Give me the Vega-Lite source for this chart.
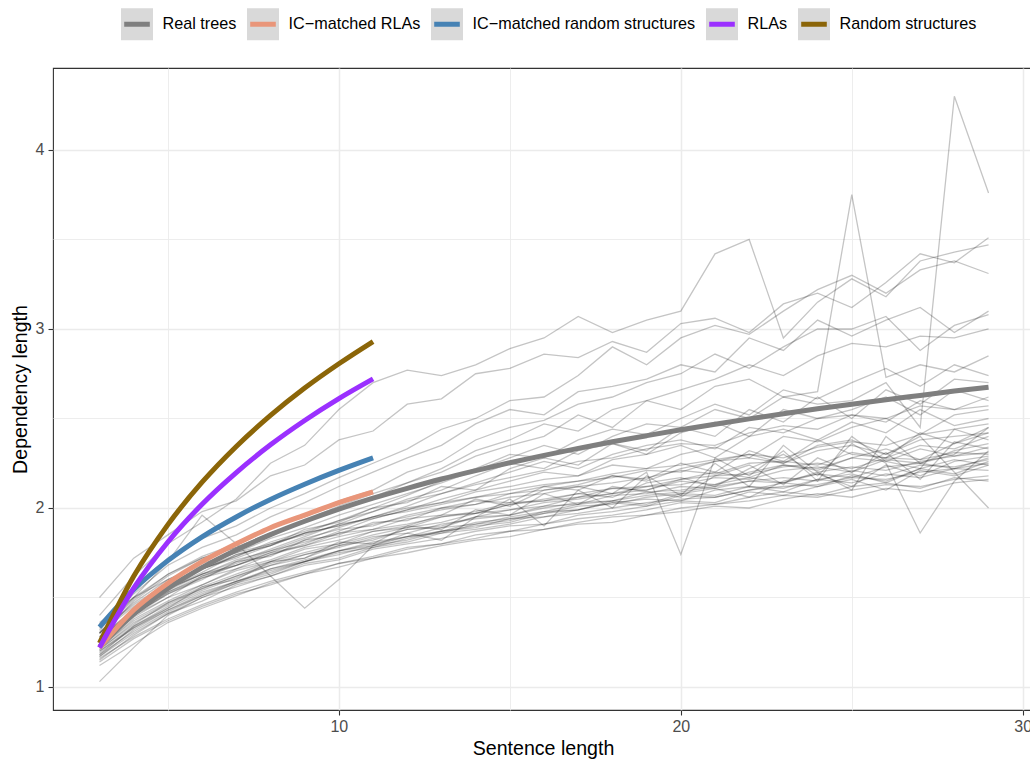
{
"$schema":"https://vega.github.io/schema/vega-lite/v6.json",
"width":980,"height":642,
"autosize":{"type":"none"},
"padding":{"left":53,"top":68,"right":0,"bottom":49},
"config":{
 "font":"Liberation Sans",
 "view":{"stroke":"#333333","strokeWidth":1.1},
 "axis":{"domain":false,"gridColor":"#EBEBEB","tickColor":"#333333","tickWidth":1.1,"tickSize":5,"labelFont":"Liberation Sans","labelFontSize":16,"labelColor":"#4D4D4D","titleFont":"Liberation Sans","titleFontSize":19.6,"titleFontWeight":"normal","titleColor":"#000000"}
},
"datasets":{
"lang":[
{"l":1,"x":3,"y":1.15},{"l":1,"x":4,"y":1.29},{"l":1,"x":5,"y":1.41},{"l":1,"x":6,"y":1.48},{"l":1,"x":7,"y":1.57},{"l":1,"x":8,"y":1.62},{"l":1,"x":9,"y":1.69},{"l":1,"x":10,"y":1.72},{"l":1,"x":11,"y":1.78},{"l":1,"x":12,"y":1.81},{"l":1,"x":13,"y":1.86},{"l":1,"x":14,"y":1.88},{"l":1,"x":15,"y":1.91},{"l":1,"x":16,"y":1.95},{"l":1,"x":17,"y":1.97},{"l":1,"x":18,"y":2.00},{"l":1,"x":19,"y":2.03},{"l":1,"x":20,"y":2.05},{"l":1,"x":21,"y":2.06},{"l":1,"x":22,"y":2.10},{"l":1,"x":23,"y":2.12},{"l":1,"x":24,"y":2.13},{"l":1,"x":25,"y":2.17},{"l":1,"x":26,"y":2.16},{"l":1,"x":27,"y":2.20},{"l":1,"x":28,"y":2.22},{"l":1,"x":29,"y":2.21},
{"l":2,"x":3,"y":1.20},{"l":2,"x":4,"y":1.34},{"l":2,"x":5,"y":1.45},{"l":2,"x":6,"y":1.54},{"l":2,"x":7,"y":1.61},{"l":2,"x":8,"y":1.68},{"l":2,"x":9,"y":1.72},{"l":2,"x":10,"y":1.79},{"l":2,"x":11,"y":1.82},{"l":2,"x":12,"y":1.88},{"l":2,"x":13,"y":1.89},{"l":2,"x":14,"y":1.95},{"l":2,"x":15,"y":1.96},{"l":2,"x":16,"y":2.01},{"l":2,"x":17,"y":2.02},{"l":2,"x":18,"y":2.07},{"l":2,"x":19,"y":2.08},{"l":2,"x":20,"y":2.12},{"l":2,"x":21,"y":2.11},{"l":2,"x":22,"y":2.15},{"l":2,"x":23,"y":2.17},{"l":2,"x":24,"y":2.15},{"l":2,"x":25,"y":2.21},{"l":2,"x":26,"y":2.18},{"l":2,"x":27,"y":2.24},{"l":2,"x":28,"y":2.23},{"l":2,"x":29,"y":2.27},
{"l":3,"x":3,"y":1.24},{"l":3,"x":4,"y":1.39},{"l":3,"x":5,"y":1.50},{"l":3,"x":6,"y":1.57},{"l":3,"x":7,"y":1.66},{"l":3,"x":8,"y":1.71},{"l":3,"x":9,"y":1.78},{"l":3,"x":10,"y":1.82},{"l":3,"x":11,"y":1.87},{"l":3,"x":12,"y":1.90},{"l":3,"x":13,"y":1.96},{"l":3,"x":14,"y":1.97},{"l":3,"x":15,"y":2.02},{"l":3,"x":16,"y":2.04},{"l":3,"x":17,"y":2.06},{"l":3,"x":18,"y":2.11},{"l":3,"x":19,"y":2.12},{"l":3,"x":20,"y":2.16},{"l":3,"x":21,"y":2.18},{"l":3,"x":22,"y":2.19},{"l":3,"x":23,"y":2.23},{"l":3,"x":24,"y":2.25},{"l":3,"x":25,"y":2.22},{"l":3,"x":26,"y":2.28},{"l":3,"x":27,"y":2.27},{"l":3,"x":28,"y":2.31},{"l":3,"x":29,"y":2.30},
{"l":4,"x":3,"y":1.12},{"l":4,"x":4,"y":1.24},{"l":4,"x":5,"y":1.36},{"l":4,"x":6,"y":1.44},{"l":4,"x":7,"y":1.51},{"l":4,"x":8,"y":1.58},{"l":4,"x":9,"y":1.63},{"l":4,"x":10,"y":1.69},{"l":4,"x":11,"y":1.73},{"l":4,"x":12,"y":1.78},{"l":4,"x":13,"y":1.80},{"l":4,"x":14,"y":1.85},{"l":4,"x":15,"y":1.87},{"l":4,"x":16,"y":1.91},{"l":4,"x":17,"y":1.94},{"l":4,"x":18,"y":1.96},{"l":4,"x":19,"y":1.99},{"l":4,"x":20,"y":2.03},{"l":4,"x":21,"y":2.02},{"l":4,"x":22,"y":2.06},{"l":4,"x":23,"y":2.09},{"l":4,"x":24,"y":2.07},{"l":4,"x":25,"y":2.12},{"l":4,"x":26,"y":2.14},{"l":4,"x":27,"y":2.11},{"l":4,"x":28,"y":2.17},{"l":4,"x":29,"y":2.15},
{"l":5,"x":3,"y":1.22},{"l":5,"x":4,"y":1.37},{"l":5,"x":5,"y":1.47},{"l":5,"x":6,"y":1.56},{"l":5,"x":7,"y":1.63},{"l":5,"x":8,"y":1.70},{"l":5,"x":9,"y":1.75},{"l":5,"x":10,"y":1.80},{"l":5,"x":11,"y":1.85},{"l":5,"x":12,"y":1.89},{"l":5,"x":13,"y":1.92},{"l":5,"x":14,"y":1.97},{"l":5,"x":15,"y":1.99},{"l":5,"x":16,"y":2.03},{"l":5,"x":17,"y":2.05},{"l":5,"x":18,"y":2.08},{"l":5,"x":19,"y":2.12},{"l":5,"x":20,"y":2.13},{"l":5,"x":21,"y":2.17},{"l":5,"x":22,"y":2.16},{"l":5,"x":23,"y":2.21},{"l":5,"x":24,"y":2.23},{"l":5,"x":25,"y":2.20},{"l":5,"x":26,"y":2.27},{"l":5,"x":27,"y":2.25},{"l":5,"x":28,"y":2.32},{"l":5,"x":29,"y":2.36},
{"l":6,"x":3,"y":1.18},{"l":6,"x":4,"y":1.31},{"l":6,"x":5,"y":1.42},{"l":6,"x":6,"y":1.51},{"l":6,"x":7,"y":1.58},{"l":6,"x":8,"y":1.63},{"l":6,"x":9,"y":1.70},{"l":6,"x":10,"y":1.74},{"l":6,"x":11,"y":1.79},{"l":6,"x":12,"y":1.82},{"l":6,"x":13,"y":1.87},{"l":6,"x":14,"y":1.89},{"l":6,"x":15,"y":1.94},{"l":6,"x":16,"y":1.95},{"l":6,"x":17,"y":1.99},{"l":6,"x":18,"y":2.03},{"l":6,"x":19,"y":2.01},{"l":6,"x":20,"y":2.07},{"l":6,"x":21,"y":2.06},{"l":6,"x":22,"y":2.10},{"l":6,"x":23,"y":2.14},{"l":6,"x":24,"y":2.12},{"l":6,"x":25,"y":2.18},{"l":6,"x":26,"y":2.15},{"l":6,"x":27,"y":2.22},{"l":6,"x":28,"y":2.19},{"l":6,"x":29,"y":2.26},
{"l":7,"x":3,"y":1.27},{"l":7,"x":4,"y":1.42},{"l":7,"x":5,"y":1.53},{"l":7,"x":6,"y":1.62},{"l":7,"x":7,"y":1.69},{"l":7,"x":8,"y":1.76},{"l":7,"x":9,"y":1.81},{"l":7,"x":10,"y":1.86},{"l":7,"x":11,"y":1.91},{"l":7,"x":12,"y":1.95},{"l":7,"x":13,"y":1.99},{"l":7,"x":14,"y":2.02},{"l":7,"x":15,"y":2.06},{"l":7,"x":16,"y":2.08},{"l":7,"x":17,"y":2.12},{"l":7,"x":18,"y":2.14},{"l":7,"x":19,"y":2.17},{"l":7,"x":20,"y":2.21},{"l":7,"x":21,"y":2.19},{"l":7,"x":22,"y":2.25},{"l":7,"x":23,"y":2.26},{"l":7,"x":24,"y":2.24},{"l":7,"x":25,"y":2.31},{"l":7,"x":26,"y":2.28},{"l":7,"x":27,"y":2.35},{"l":7,"x":28,"y":2.33},{"l":7,"x":29,"y":2.40},
{"l":8,"x":3,"y":1.16},{"l":8,"x":4,"y":1.28},{"l":8,"x":5,"y":1.38},{"l":8,"x":6,"y":1.46},{"l":8,"x":7,"y":1.53},{"l":8,"x":8,"y":1.59},{"l":8,"x":9,"y":1.64},{"l":8,"x":10,"y":1.69},{"l":8,"x":11,"y":1.72},{"l":8,"x":12,"y":1.77},{"l":8,"x":13,"y":1.80},{"l":8,"x":14,"y":1.83},{"l":8,"x":15,"y":1.87},{"l":8,"x":16,"y":1.88},{"l":8,"x":17,"y":1.92},{"l":8,"x":18,"y":1.95},{"l":8,"x":19,"y":1.96},{"l":8,"x":20,"y":2.00},{"l":8,"x":21,"y":2.02},{"l":8,"x":22,"y":2.04},{"l":8,"x":23,"y":2.07},{"l":8,"x":24,"y":2.06},{"l":8,"x":25,"y":2.10},{"l":8,"x":26,"y":2.13},{"l":8,"x":27,"y":2.12},{"l":8,"x":28,"y":2.16},{"l":8,"x":29,"y":2.18},
{"l":9,"x":3,"y":1.03},{"l":9,"x":4,"y":1.22},{"l":9,"x":5,"y":1.40},{"l":9,"x":6,"y":1.50},{"l":9,"x":7,"y":1.58},{"l":9,"x":8,"y":1.66},{"l":9,"x":9,"y":1.70},{"l":9,"x":10,"y":1.76},{"l":9,"x":11,"y":1.80},{"l":9,"x":12,"y":1.84},{"l":9,"x":13,"y":1.87},{"l":9,"x":14,"y":1.92},{"l":9,"x":15,"y":1.94},{"l":9,"x":16,"y":1.97},{"l":9,"x":17,"y":2.01},{"l":9,"x":18,"y":2.02},{"l":9,"x":19,"y":2.06},{"l":9,"x":20,"y":2.08},{"l":9,"x":21,"y":2.07},{"l":9,"x":22,"y":2.12},{"l":9,"x":23,"y":2.11},{"l":9,"x":24,"y":2.16},{"l":9,"x":25,"y":2.14},{"l":9,"x":26,"y":2.19},{"l":9,"x":27,"y":2.17},{"l":9,"x":28,"y":2.22},{"l":9,"x":29,"y":2.25},
{"l":10,"x":3,"y":1.21},{"l":10,"x":4,"y":1.35},{"l":10,"x":5,"y":1.47},{"l":10,"x":6,"y":1.55},{"l":10,"x":7,"y":1.62},{"l":10,"x":8,"y":1.69},{"l":10,"x":9,"y":1.74},{"l":10,"x":10,"y":1.79},{"l":10,"x":11,"y":1.84},{"l":10,"x":12,"y":1.86},{"l":10,"x":13,"y":1.91},{"l":10,"x":14,"y":1.94},{"l":10,"x":15,"y":1.96},{"l":10,"x":16,"y":2.00},{"l":10,"x":17,"y":2.03},{"l":10,"x":18,"y":2.04},{"l":10,"x":19,"y":2.09},{"l":10,"x":20,"y":2.10},{"l":10,"x":21,"y":2.13},{"l":10,"x":22,"y":2.17},{"l":10,"x":23,"y":2.14},{"l":10,"x":24,"y":2.20},{"l":10,"x":25,"y":2.23},{"l":10,"x":26,"y":2.21},{"l":10,"x":27,"y":2.26},{"l":10,"x":28,"y":2.29},{"l":10,"x":29,"y":2.31},
{"l":11,"x":3,"y":1.14},{"l":11,"x":4,"y":1.27},{"l":11,"x":5,"y":1.37},{"l":11,"x":6,"y":1.45},{"l":11,"x":7,"y":1.52},{"l":11,"x":8,"y":1.57},{"l":11,"x":9,"y":1.63},{"l":11,"x":10,"y":1.67},{"l":11,"x":11,"y":1.72},{"l":11,"x":12,"y":1.75},{"l":11,"x":13,"y":1.79},{"l":11,"x":14,"y":1.82},{"l":11,"x":15,"y":1.84},{"l":11,"x":16,"y":1.88},{"l":11,"x":17,"y":1.91},{"l":11,"x":18,"y":1.92},{"l":11,"x":19,"y":1.96},{"l":11,"x":20,"y":1.98},{"l":11,"x":21,"y":2.01},{"l":11,"x":22,"y":2.00},{"l":11,"x":23,"y":2.05},{"l":11,"x":24,"y":2.08},{"l":11,"x":25,"y":2.06},{"l":11,"x":26,"y":2.11},{"l":11,"x":27,"y":2.09},{"l":11,"x":28,"y":2.14},{"l":11,"x":29,"y":2.16},
{"l":12,"x":3,"y":1.26},{"l":12,"x":4,"y":1.41},{"l":12,"x":5,"y":1.52},{"l":12,"x":6,"y":1.61},{"l":12,"x":7,"y":1.68},{"l":12,"x":8,"y":1.74},{"l":12,"x":9,"y":1.79},{"l":12,"x":10,"y":1.84},{"l":12,"x":11,"y":1.88},{"l":12,"x":12,"y":1.91},{"l":12,"x":13,"y":1.95},{"l":12,"x":14,"y":1.98},{"l":12,"x":15,"y":2.03},{"l":12,"x":16,"y":2.04},{"l":12,"x":17,"y":2.08},{"l":12,"x":18,"y":2.11},{"l":12,"x":19,"y":2.10},{"l":12,"x":20,"y":2.16},{"l":12,"x":21,"y":2.20},{"l":12,"x":22,"y":2.17},{"l":12,"x":23,"y":2.24},{"l":12,"x":24,"y":2.22},{"l":12,"x":25,"y":2.28},{"l":12,"x":26,"y":2.33},{"l":12,"x":27,"y":2.27},{"l":12,"x":28,"y":2.36},{"l":12,"x":29,"y":2.42},
{"l":13,"x":3,"y":1.19},{"l":13,"x":4,"y":1.33},{"l":13,"x":5,"y":1.43},{"l":13,"x":6,"y":1.52},{"l":13,"x":7,"y":1.59},{"l":13,"x":8,"y":1.65},{"l":13,"x":9,"y":1.70},{"l":13,"x":10,"y":1.76},{"l":13,"x":11,"y":1.79},{"l":13,"x":12,"y":1.84},{"l":13,"x":13,"y":1.86},{"l":13,"x":14,"y":1.91},{"l":13,"x":15,"y":1.93},{"l":13,"x":16,"y":1.98},{"l":13,"x":17,"y":1.99},{"l":13,"x":18,"y":2.04},{"l":13,"x":19,"y":2.02},{"l":13,"x":20,"y":2.08},{"l":13,"x":21,"y":2.11},{"l":13,"x":22,"y":2.06},{"l":13,"x":23,"y":2.15},{"l":13,"x":24,"y":2.19},{"l":13,"x":25,"y":2.12},{"l":13,"x":26,"y":2.24},{"l":13,"x":27,"y":2.18},{"l":13,"x":28,"y":2.26},{"l":13,"x":29,"y":2.29},
{"l":14,"x":3,"y":1.30},{"l":14,"x":4,"y":1.45},{"l":14,"x":5,"y":1.57},{"l":14,"x":6,"y":1.66},{"l":14,"x":7,"y":1.73},{"l":14,"x":8,"y":1.80},{"l":14,"x":9,"y":1.85},{"l":14,"x":10,"y":1.91},{"l":14,"x":11,"y":1.94},{"l":14,"x":12,"y":1.99},{"l":14,"x":13,"y":2.03},{"l":14,"x":14,"y":2.06},{"l":14,"x":15,"y":2.10},{"l":14,"x":16,"y":2.13},{"l":14,"x":17,"y":2.15},{"l":14,"x":18,"y":2.19},{"l":14,"x":19,"y":2.22},{"l":14,"x":20,"y":2.24},{"l":14,"x":21,"y":2.27},{"l":14,"x":22,"y":2.30},{"l":14,"x":23,"y":2.28},{"l":14,"x":24,"y":2.34},{"l":14,"x":25,"y":2.37},{"l":14,"x":26,"y":2.35},{"l":14,"x":27,"y":2.41},{"l":14,"x":28,"y":2.44},{"l":14,"x":29,"y":2.47},
{"l":15,"x":3,"y":1.17},{"l":15,"x":4,"y":1.30},{"l":15,"x":5,"y":1.41},{"l":15,"x":6,"y":1.50},{"l":15,"x":7,"y":1.56},{"l":15,"x":8,"y":1.62},{"l":15,"x":9,"y":1.68},{"l":15,"x":10,"y":1.71},{"l":15,"x":11,"y":1.77},{"l":15,"x":12,"y":1.80},{"l":15,"x":13,"y":1.83},{"l":15,"x":14,"y":1.87},{"l":15,"x":15,"y":1.90},{"l":15,"x":16,"y":1.91},{"l":15,"x":17,"y":1.96},{"l":15,"x":18,"y":1.98},{"l":15,"x":19,"y":2.01},{"l":15,"x":20,"y":2.04},{"l":15,"x":21,"y":2.03},{"l":15,"x":22,"y":2.09},{"l":15,"x":23,"y":2.07},{"l":15,"x":24,"y":2.12},{"l":15,"x":25,"y":2.16},{"l":15,"x":26,"y":2.10},{"l":15,"x":27,"y":2.21},{"l":15,"x":28,"y":2.18},{"l":15,"x":29,"y":2.24},
{"l":16,"x":3,"y":1.30},{"l":16,"x":4,"y":1.50},{"l":16,"x":5,"y":1.70},{"l":16,"x":6,"y":1.96},{"l":16,"x":7,"y":1.80},{"l":16,"x":8,"y":1.62},{"l":16,"x":9,"y":1.44},{"l":16,"x":10,"y":1.60},{"l":16,"x":11,"y":1.79},{"l":16,"x":12,"y":1.86},{"l":16,"x":13,"y":1.82},{"l":16,"x":14,"y":1.95},{"l":16,"x":15,"y":2.05},{"l":16,"x":16,"y":1.90},{"l":16,"x":17,"y":2.10},{"l":16,"x":18,"y":2.00},{"l":16,"x":19,"y":2.18},{"l":16,"x":20,"y":2.07},{"l":16,"x":21,"y":2.25},{"l":16,"x":22,"y":2.12},{"l":16,"x":23,"y":2.35},{"l":16,"x":24,"y":2.20},{"l":16,"x":25,"y":2.10},{"l":16,"x":26,"y":2.40},{"l":16,"x":27,"y":2.25},{"l":16,"x":28,"y":2.30},{"l":16,"x":29,"y":2.45},
{"l":17,"x":3,"y":1.24},{"l":17,"x":4,"y":1.40},{"l":17,"x":5,"y":1.50},{"l":17,"x":6,"y":1.62},{"l":17,"x":7,"y":1.68},{"l":17,"x":8,"y":1.75},{"l":17,"x":9,"y":1.79},{"l":17,"x":10,"y":1.86},{"l":17,"x":11,"y":1.88},{"l":17,"x":12,"y":1.94},{"l":17,"x":13,"y":1.96},{"l":17,"x":14,"y":2.05},{"l":17,"x":15,"y":2.01},{"l":17,"x":16,"y":2.10},{"l":17,"x":17,"y":2.12},{"l":17,"x":18,"y":2.08},{"l":17,"x":19,"y":2.20},{"l":17,"x":20,"y":1.74},{"l":17,"x":21,"y":2.28},{"l":17,"x":22,"y":2.18},{"l":17,"x":23,"y":2.32},{"l":17,"x":24,"y":2.15},{"l":17,"x":25,"y":2.40},{"l":17,"x":26,"y":2.26},{"l":17,"x":27,"y":2.22},{"l":17,"x":28,"y":2.44},{"l":17,"x":29,"y":2.38},
{"l":18,"x":3,"y":1.22},{"l":18,"x":4,"y":1.38},{"l":18,"x":5,"y":1.48},{"l":18,"x":6,"y":1.57},{"l":18,"x":7,"y":1.65},{"l":18,"x":8,"y":1.70},{"l":18,"x":9,"y":1.77},{"l":18,"x":10,"y":1.80},{"l":18,"x":11,"y":1.87},{"l":18,"x":12,"y":1.89},{"l":18,"x":13,"y":1.95},{"l":18,"x":14,"y":1.97},{"l":18,"x":15,"y":2.02},{"l":18,"x":16,"y":2.05},{"l":18,"x":17,"y":2.08},{"l":18,"x":18,"y":2.06},{"l":18,"x":19,"y":2.14},{"l":18,"x":20,"y":2.17},{"l":18,"x":21,"y":2.12},{"l":18,"x":22,"y":2.22},{"l":18,"x":23,"y":2.30},{"l":18,"x":24,"y":2.18},{"l":18,"x":25,"y":2.36},{"l":18,"x":26,"y":2.25},{"l":18,"x":27,"y":1.86},{"l":18,"x":28,"y":2.15},{"l":18,"x":29,"y":2.32},
{"l":19,"x":3,"y":1.28},{"l":19,"x":4,"y":1.43},{"l":19,"x":5,"y":1.55},{"l":19,"x":6,"y":1.63},{"l":19,"x":7,"y":1.71},{"l":19,"x":8,"y":1.76},{"l":19,"x":9,"y":1.83},{"l":19,"x":10,"y":1.88},{"l":19,"x":11,"y":1.90},{"l":19,"x":12,"y":1.96},{"l":19,"x":13,"y":2.00},{"l":19,"x":14,"y":2.02},{"l":19,"x":15,"y":2.08},{"l":19,"x":16,"y":2.10},{"l":19,"x":17,"y":2.13},{"l":19,"x":18,"y":2.18},{"l":19,"x":19,"y":2.15},{"l":19,"x":20,"y":2.22},{"l":19,"x":21,"y":2.26},{"l":19,"x":22,"y":2.30},{"l":19,"x":23,"y":2.25},{"l":19,"x":24,"y":2.35},{"l":19,"x":25,"y":2.38},{"l":19,"x":26,"y":2.30},{"l":19,"x":27,"y":2.40},{"l":19,"x":28,"y":2.20},{"l":19,"x":29,"y":2.00},
{"l":20,"x":3,"y":1.18},{"l":20,"x":4,"y":1.34},{"l":20,"x":5,"y":1.44},{"l":20,"x":6,"y":1.56},{"l":20,"x":7,"y":1.60},{"l":20,"x":8,"y":1.70},{"l":20,"x":9,"y":1.72},{"l":20,"x":10,"y":1.81},{"l":20,"x":11,"y":1.80},{"l":20,"x":12,"y":1.90},{"l":20,"x":13,"y":1.88},{"l":20,"x":14,"y":1.99},{"l":20,"x":15,"y":1.96},{"l":20,"x":16,"y":2.08},{"l":20,"x":17,"y":2.02},{"l":20,"x":18,"y":2.12},{"l":20,"x":19,"y":2.09},{"l":20,"x":20,"y":2.06},{"l":20,"x":21,"y":2.18},{"l":20,"x":22,"y":2.24},{"l":20,"x":23,"y":2.13},{"l":20,"x":24,"y":2.28},{"l":20,"x":25,"y":2.20},{"l":20,"x":26,"y":2.31},{"l":20,"x":27,"y":2.16},{"l":20,"x":28,"y":2.37},{"l":20,"x":29,"y":2.33},
{"l":21,"x":3,"y":1.50},{"l":21,"x":4,"y":1.72},{"l":21,"x":5,"y":1.85},{"l":21,"x":6,"y":1.98},{"l":21,"x":7,"y":2.04},{"l":21,"x":8,"y":2.18},{"l":21,"x":9,"y":2.24},{"l":21,"x":10,"y":2.38},{"l":21,"x":11,"y":2.43},{"l":21,"x":12,"y":2.58},{"l":21,"x":13,"y":2.61},{"l":21,"x":14,"y":2.75},{"l":21,"x":15,"y":2.78},{"l":21,"x":16,"y":2.86},{"l":21,"x":17,"y":2.84},{"l":21,"x":18,"y":2.93},{"l":21,"x":19,"y":2.87},{"l":21,"x":20,"y":3.03},{"l":21,"x":21,"y":3.06},{"l":21,"x":22,"y":2.98},{"l":21,"x":23,"y":3.14},{"l":21,"x":24,"y":3.20},{"l":21,"x":25,"y":3.12},{"l":21,"x":26,"y":3.26},{"l":21,"x":27,"y":3.42},{"l":21,"x":28,"y":3.37},{"l":21,"x":29,"y":3.51},
{"l":22,"x":3,"y":1.40},{"l":22,"x":4,"y":1.62},{"l":22,"x":5,"y":1.80},{"l":22,"x":6,"y":1.92},{"l":22,"x":7,"y":2.05},{"l":22,"x":8,"y":2.25},{"l":22,"x":9,"y":2.35},{"l":22,"x":10,"y":2.55},{"l":22,"x":11,"y":2.70},{"l":22,"x":12,"y":2.77},{"l":22,"x":13,"y":2.74},{"l":22,"x":14,"y":2.80},{"l":22,"x":15,"y":2.89},{"l":22,"x":16,"y":2.95},{"l":22,"x":17,"y":3.07},{"l":22,"x":18,"y":2.98},{"l":22,"x":19,"y":3.05},{"l":22,"x":20,"y":3.10},{"l":22,"x":21,"y":3.42},{"l":22,"x":22,"y":3.50},{"l":22,"x":23,"y":2.95},{"l":22,"x":24,"y":3.15},{"l":22,"x":25,"y":3.28},{"l":22,"x":26,"y":3.18},{"l":22,"x":27,"y":3.38},{"l":22,"x":28,"y":3.43},{"l":22,"x":29,"y":3.47},
{"l":23,"x":3,"y":1.35},{"l":23,"x":4,"y":1.56},{"l":23,"x":5,"y":1.72},{"l":23,"x":6,"y":1.83},{"l":23,"x":7,"y":1.90},{"l":23,"x":8,"y":2.00},{"l":23,"x":9,"y":2.08},{"l":23,"x":10,"y":2.17},{"l":23,"x":11,"y":2.25},{"l":23,"x":12,"y":2.33},{"l":23,"x":13,"y":2.44},{"l":23,"x":14,"y":2.50},{"l":23,"x":15,"y":2.60},{"l":23,"x":16,"y":2.62},{"l":23,"x":17,"y":2.74},{"l":23,"x":18,"y":2.90},{"l":23,"x":19,"y":2.80},{"l":23,"x":20,"y":2.95},{"l":23,"x":21,"y":3.02},{"l":23,"x":22,"y":2.97},{"l":23,"x":23,"y":3.10},{"l":23,"x":24,"y":3.22},{"l":23,"x":25,"y":3.30},{"l":23,"x":26,"y":3.20},{"l":23,"x":27,"y":3.33},{"l":23,"x":28,"y":3.38},{"l":23,"x":29,"y":3.31},
{"l":24,"x":3,"y":1.32},{"l":24,"x":4,"y":1.52},{"l":24,"x":5,"y":1.68},{"l":24,"x":6,"y":1.78},{"l":24,"x":7,"y":1.85},{"l":24,"x":8,"y":1.95},{"l":24,"x":9,"y":2.03},{"l":24,"x":10,"y":2.12},{"l":24,"x":11,"y":2.20},{"l":24,"x":12,"y":2.28},{"l":24,"x":13,"y":2.35},{"l":24,"x":14,"y":2.47},{"l":24,"x":15,"y":2.55},{"l":24,"x":16,"y":2.52},{"l":24,"x":17,"y":2.65},{"l":24,"x":18,"y":2.68},{"l":24,"x":19,"y":2.72},{"l":24,"x":20,"y":2.80},{"l":24,"x":21,"y":2.76},{"l":24,"x":22,"y":2.95},{"l":24,"x":23,"y":2.88},{"l":24,"x":24,"y":3.05},{"l":24,"x":25,"y":2.96},{"l":24,"x":26,"y":3.05},{"l":24,"x":27,"y":3.12},{"l":24,"x":28,"y":2.98},{"l":24,"x":29,"y":3.10},
{"l":25,"x":3,"y":1.30},{"l":25,"x":4,"y":1.49},{"l":25,"x":5,"y":1.63},{"l":25,"x":6,"y":1.73},{"l":25,"x":7,"y":1.80},{"l":25,"x":8,"y":1.89},{"l":25,"x":9,"y":1.95},{"l":25,"x":10,"y":2.04},{"l":25,"x":11,"y":2.10},{"l":25,"x":12,"y":2.20},{"l":25,"x":13,"y":2.26},{"l":25,"x":14,"y":2.38},{"l":25,"x":15,"y":2.45},{"l":25,"x":16,"y":2.49},{"l":25,"x":17,"y":2.58},{"l":25,"x":18,"y":2.62},{"l":25,"x":19,"y":2.70},{"l":25,"x":20,"y":2.75},{"l":25,"x":21,"y":2.86},{"l":25,"x":22,"y":2.78},{"l":25,"x":23,"y":2.90},{"l":25,"x":24,"y":3.00},{"l":25,"x":25,"y":3.00},{"l":25,"x":26,"y":3.07},{"l":25,"x":27,"y":2.88},{"l":25,"x":28,"y":3.02},{"l":25,"x":29,"y":3.08},
{"l":26,"x":3,"y":1.28},{"l":26,"x":4,"y":1.48},{"l":26,"x":5,"y":1.62},{"l":26,"x":6,"y":1.72},{"l":26,"x":7,"y":1.78},{"l":26,"x":8,"y":1.86},{"l":26,"x":9,"y":1.93},{"l":26,"x":10,"y":2.00},{"l":26,"x":11,"y":2.06},{"l":26,"x":12,"y":2.14},{"l":26,"x":13,"y":2.22},{"l":26,"x":14,"y":2.32},{"l":26,"x":15,"y":2.38},{"l":26,"x":16,"y":2.47},{"l":26,"x":17,"y":2.43},{"l":26,"x":18,"y":2.55},{"l":26,"x":19,"y":2.60},{"l":26,"x":20,"y":2.66},{"l":26,"x":21,"y":2.72},{"l":26,"x":22,"y":2.80},{"l":26,"x":23,"y":2.74},{"l":26,"x":24,"y":2.85},{"l":26,"x":25,"y":2.92},{"l":26,"x":26,"y":2.90},{"l":26,"x":27,"y":2.96},{"l":26,"x":28,"y":2.95},{"l":26,"x":29,"y":3.00},
{"l":27,"x":3,"y":1.33},{"l":27,"x":4,"y":1.50},{"l":27,"x":5,"y":1.63},{"l":27,"x":6,"y":1.72},{"l":27,"x":7,"y":1.78},{"l":27,"x":8,"y":1.86},{"l":27,"x":9,"y":1.93},{"l":27,"x":10,"y":2.01},{"l":27,"x":11,"y":2.08},{"l":27,"x":12,"y":2.14},{"l":27,"x":13,"y":2.20},{"l":27,"x":14,"y":2.29},{"l":27,"x":15,"y":2.35},{"l":27,"x":16,"y":2.40},{"l":27,"x":17,"y":2.52},{"l":27,"x":18,"y":2.45},{"l":27,"x":19,"y":2.60},{"l":27,"x":20,"y":2.55},{"l":27,"x":21,"y":2.68},{"l":27,"x":22,"y":2.72},{"l":27,"x":23,"y":2.62},{"l":27,"x":24,"y":2.65},{"l":27,"x":25,"y":3.75},{"l":27,"x":26,"y":2.73},{"l":27,"x":27,"y":2.80},{"l":27,"x":28,"y":2.76},{"l":27,"x":29,"y":2.85},
{"l":28,"x":3,"y":1.25},{"l":28,"x":4,"y":1.43},{"l":28,"x":5,"y":1.56},{"l":28,"x":6,"y":1.66},{"l":28,"x":7,"y":1.72},{"l":28,"x":8,"y":1.79},{"l":28,"x":9,"y":1.86},{"l":28,"x":10,"y":1.93},{"l":28,"x":11,"y":2.00},{"l":28,"x":12,"y":2.07},{"l":28,"x":13,"y":2.15},{"l":28,"x":14,"y":2.22},{"l":28,"x":15,"y":2.30},{"l":28,"x":16,"y":2.28},{"l":28,"x":17,"y":2.38},{"l":28,"x":18,"y":2.44},{"l":28,"x":19,"y":2.41},{"l":28,"x":20,"y":2.50},{"l":28,"x":21,"y":2.58},{"l":28,"x":22,"y":2.52},{"l":28,"x":23,"y":2.66},{"l":28,"x":24,"y":2.61},{"l":28,"x":25,"y":2.70},{"l":28,"x":26,"y":2.78},{"l":28,"x":27,"y":2.68},{"l":28,"x":28,"y":2.80},{"l":28,"x":29,"y":2.74},
{"l":29,"x":3,"y":1.30},{"l":29,"x":4,"y":1.47},{"l":29,"x":5,"y":1.60},{"l":29,"x":6,"y":1.69},{"l":29,"x":7,"y":1.75},{"l":29,"x":8,"y":1.83},{"l":29,"x":9,"y":1.89},{"l":29,"x":10,"y":1.96},{"l":29,"x":11,"y":2.02},{"l":29,"x":12,"y":2.08},{"l":29,"x":13,"y":2.14},{"l":29,"x":14,"y":2.21},{"l":29,"x":15,"y":2.28},{"l":29,"x":16,"y":2.35},{"l":29,"x":17,"y":2.30},{"l":29,"x":18,"y":2.40},{"l":29,"x":19,"y":2.47},{"l":29,"x":20,"y":2.45},{"l":29,"x":21,"y":2.55},{"l":29,"x":22,"y":2.50},{"l":29,"x":23,"y":2.62},{"l":29,"x":24,"y":2.58},{"l":29,"x":25,"y":2.60},{"l":29,"x":26,"y":2.70},{"l":29,"x":27,"y":2.45},{"l":29,"x":28,"y":4.30},{"l":29,"x":29,"y":3.76},
{"l":30,"x":3,"y":1.22},{"l":30,"x":4,"y":1.40},{"l":30,"x":5,"y":1.54},{"l":30,"x":6,"y":1.63},{"l":30,"x":7,"y":1.70},{"l":30,"x":8,"y":1.77},{"l":30,"x":9,"y":1.84},{"l":30,"x":10,"y":1.91},{"l":30,"x":11,"y":1.98},{"l":30,"x":12,"y":2.05},{"l":30,"x":13,"y":2.10},{"l":30,"x":14,"y":2.18},{"l":30,"x":15,"y":2.25},{"l":30,"x":16,"y":2.22},{"l":30,"x":17,"y":2.32},{"l":30,"x":18,"y":2.36},{"l":30,"x":19,"y":2.30},{"l":30,"x":20,"y":2.42},{"l":30,"x":21,"y":2.48},{"l":30,"x":22,"y":2.40},{"l":30,"x":23,"y":2.55},{"l":30,"x":24,"y":2.50},{"l":30,"x":25,"y":2.55},{"l":30,"x":26,"y":2.62},{"l":30,"x":27,"y":2.52},{"l":30,"x":28,"y":2.66},{"l":30,"x":29,"y":2.60},
{"l":31,"x":3,"y":1.27},{"l":31,"x":4,"y":1.43},{"l":31,"x":5,"y":1.55},{"l":31,"x":6,"y":1.63},{"l":31,"x":7,"y":1.68},{"l":31,"x":8,"y":1.75},{"l":31,"x":9,"y":1.82},{"l":31,"x":10,"y":1.89},{"l":31,"x":11,"y":1.95},{"l":31,"x":12,"y":2.01},{"l":31,"x":13,"y":2.08},{"l":31,"x":14,"y":2.14},{"l":31,"x":15,"y":2.20},{"l":31,"x":16,"y":2.26},{"l":31,"x":17,"y":2.22},{"l":31,"x":18,"y":2.30},{"l":31,"x":19,"y":2.35},{"l":31,"x":20,"y":2.38},{"l":31,"x":21,"y":2.33},{"l":31,"x":22,"y":2.45},{"l":31,"x":23,"y":2.42},{"l":31,"x":24,"y":2.50},{"l":31,"x":25,"y":2.52},{"l":31,"x":26,"y":2.48},{"l":31,"x":27,"y":2.60},{"l":31,"x":28,"y":2.55},{"l":31,"x":29,"y":2.57},
{"l":32,"x":3,"y":1.24},{"l":32,"x":4,"y":1.40},{"l":32,"x":5,"y":1.53},{"l":32,"x":6,"y":1.61},{"l":32,"x":7,"y":1.66},{"l":32,"x":8,"y":1.74},{"l":32,"x":9,"y":1.80},{"l":32,"x":10,"y":1.87},{"l":32,"x":11,"y":1.94},{"l":32,"x":12,"y":1.99},{"l":32,"x":13,"y":2.05},{"l":32,"x":14,"y":2.10},{"l":32,"x":15,"y":2.15},{"l":32,"x":16,"y":2.20},{"l":32,"x":17,"y":2.18},{"l":32,"x":18,"y":2.27},{"l":32,"x":19,"y":2.30},{"l":32,"x":20,"y":2.35},{"l":32,"x":21,"y":2.28},{"l":32,"x":22,"y":2.40},{"l":32,"x":23,"y":2.44},{"l":32,"x":24,"y":2.38},{"l":32,"x":25,"y":2.48},{"l":32,"x":26,"y":2.42},{"l":32,"x":27,"y":2.55},{"l":32,"x":28,"y":2.46},{"l":32,"x":29,"y":2.50},
{"l":33,"x":3,"y":1.21},{"l":33,"x":4,"y":1.36},{"l":33,"x":5,"y":1.46},{"l":33,"x":6,"y":1.55},{"l":33,"x":7,"y":1.62},{"l":33,"x":8,"y":1.68},{"l":33,"x":9,"y":1.74},{"l":33,"x":10,"y":1.78},{"l":33,"x":11,"y":1.83},{"l":33,"x":12,"y":1.88},{"l":33,"x":13,"y":1.90},{"l":33,"x":14,"y":1.95},{"l":33,"x":15,"y":1.99},{"l":33,"x":16,"y":2.01},{"l":33,"x":17,"y":2.06},{"l":33,"x":18,"y":2.08},{"l":33,"x":19,"y":2.10},{"l":33,"x":20,"y":2.15},{"l":33,"x":21,"y":2.13},{"l":33,"x":22,"y":2.20},{"l":33,"x":23,"y":2.24},{"l":33,"x":24,"y":2.21},{"l":33,"x":25,"y":2.28},{"l":33,"x":26,"y":2.26},{"l":33,"x":27,"y":2.33},{"l":33,"x":28,"y":2.29},{"l":33,"x":29,"y":2.34},
{"l":34,"x":3,"y":1.17},{"l":34,"x":4,"y":1.32},{"l":34,"x":5,"y":1.43},{"l":34,"x":6,"y":1.51},{"l":34,"x":7,"y":1.59},{"l":34,"x":8,"y":1.64},{"l":34,"x":9,"y":1.70},{"l":34,"x":10,"y":1.75},{"l":34,"x":11,"y":1.78},{"l":34,"x":12,"y":1.83},{"l":34,"x":13,"y":1.87},{"l":34,"x":14,"y":1.90},{"l":34,"x":15,"y":1.92},{"l":34,"x":16,"y":1.97},{"l":34,"x":17,"y":1.99},{"l":34,"x":18,"y":2.03},{"l":34,"x":19,"y":2.05},{"l":34,"x":20,"y":2.04},{"l":34,"x":21,"y":2.10},{"l":34,"x":22,"y":2.12},{"l":34,"x":23,"y":2.09},{"l":34,"x":24,"y":2.16},{"l":34,"x":25,"y":2.19},{"l":34,"x":26,"y":2.14},{"l":34,"x":27,"y":2.22},{"l":34,"x":28,"y":2.27},{"l":34,"x":29,"y":2.24},
{"l":35,"x":3,"y":1.25},{"l":35,"x":4,"y":1.40},{"l":35,"x":5,"y":1.52},{"l":35,"x":6,"y":1.60},{"l":35,"x":7,"y":1.70},{"l":35,"x":8,"y":1.73},{"l":35,"x":9,"y":1.82},{"l":35,"x":10,"y":1.85},{"l":35,"x":11,"y":1.92},{"l":35,"x":12,"y":1.93},{"l":35,"x":13,"y":2.00},{"l":35,"x":14,"y":2.04},{"l":35,"x":15,"y":2.03},{"l":35,"x":16,"y":2.12},{"l":35,"x":17,"y":2.10},{"l":35,"x":18,"y":2.18},{"l":35,"x":19,"y":2.16},{"l":35,"x":20,"y":2.25},{"l":35,"x":21,"y":2.20},{"l":35,"x":22,"y":2.32},{"l":35,"x":23,"y":2.26},{"l":35,"x":24,"y":2.38},{"l":35,"x":25,"y":2.30},{"l":35,"x":26,"y":2.28},{"l":35,"x":27,"y":2.42},{"l":35,"x":28,"y":2.36},{"l":35,"x":29,"y":2.45},
{"l":36,"x":3,"y":1.20},{"l":36,"x":4,"y":1.33},{"l":36,"x":5,"y":1.44},{"l":36,"x":6,"y":1.53},{"l":36,"x":7,"y":1.59},{"l":36,"x":8,"y":1.66},{"l":36,"x":9,"y":1.71},{"l":36,"x":10,"y":1.76},{"l":36,"x":11,"y":1.81},{"l":36,"x":12,"y":1.84},{"l":36,"x":13,"y":1.89},{"l":36,"x":14,"y":1.91},{"l":36,"x":15,"y":1.95},{"l":36,"x":16,"y":1.98},{"l":36,"x":17,"y":2.02},{"l":36,"x":18,"y":2.04},{"l":36,"x":19,"y":2.07},{"l":36,"x":20,"y":2.09},{"l":36,"x":21,"y":2.12},{"l":36,"x":22,"y":2.15},{"l":36,"x":23,"y":2.14},{"l":36,"x":24,"y":2.19},{"l":36,"x":25,"y":2.17},{"l":36,"x":26,"y":2.23},{"l":36,"x":27,"y":2.25},{"l":36,"x":28,"y":2.22},{"l":36,"x":29,"y":2.28},
{"l":37,"x":3,"y":1.26},{"l":37,"x":4,"y":1.44},{"l":37,"x":5,"y":1.57},{"l":37,"x":6,"y":1.66},{"l":37,"x":7,"y":1.73},{"l":37,"x":8,"y":1.81},{"l":37,"x":9,"y":1.87},{"l":37,"x":10,"y":1.93},{"l":37,"x":11,"y":1.98},{"l":37,"x":12,"y":2.04},{"l":37,"x":13,"y":2.08},{"l":37,"x":14,"y":2.13},{"l":37,"x":15,"y":2.17},{"l":37,"x":16,"y":2.21},{"l":37,"x":17,"y":2.26},{"l":37,"x":18,"y":2.28},{"l":37,"x":19,"y":2.33},{"l":37,"x":20,"y":2.36},{"l":37,"x":21,"y":2.35},{"l":37,"x":22,"y":2.42},{"l":37,"x":23,"y":2.46},{"l":37,"x":24,"y":2.44},{"l":37,"x":25,"y":2.52},{"l":37,"x":26,"y":2.50},{"l":37,"x":27,"y":2.57},{"l":37,"x":28,"y":2.55},{"l":37,"x":29,"y":2.62},
{"l":38,"x":3,"y":1.31},{"l":38,"x":4,"y":1.46},{"l":38,"x":5,"y":1.58},{"l":38,"x":6,"y":1.66},{"l":38,"x":7,"y":1.74},{"l":38,"x":8,"y":1.79},{"l":38,"x":9,"y":1.86},{"l":38,"x":10,"y":1.90},{"l":38,"x":11,"y":1.95},{"l":38,"x":12,"y":2.00},{"l":38,"x":13,"y":2.03},{"l":38,"x":14,"y":2.09},{"l":38,"x":15,"y":2.12},{"l":38,"x":16,"y":2.16},{"l":38,"x":17,"y":2.18},{"l":38,"x":18,"y":2.24},{"l":38,"x":19,"y":2.22},{"l":38,"x":20,"y":2.30},{"l":38,"x":21,"y":2.34},{"l":38,"x":22,"y":2.28},{"l":38,"x":23,"y":2.40},{"l":38,"x":24,"y":2.37},{"l":38,"x":25,"y":2.45},{"l":38,"x":26,"y":2.50},{"l":38,"x":27,"y":2.41},{"l":38,"x":28,"y":2.52},{"l":38,"x":29,"y":2.55},
{"l":39,"x":3,"y":1.23},{"l":39,"x":4,"y":1.41},{"l":39,"x":5,"y":1.55},{"l":39,"x":6,"y":1.64},{"l":39,"x":7,"y":1.74},{"l":39,"x":8,"y":1.79},{"l":39,"x":9,"y":1.88},{"l":39,"x":10,"y":1.92},{"l":39,"x":11,"y":2.00},{"l":39,"x":12,"y":2.03},{"l":39,"x":13,"y":2.12},{"l":39,"x":14,"y":2.10},{"l":39,"x":15,"y":2.22},{"l":39,"x":16,"y":2.28},{"l":39,"x":17,"y":2.24},{"l":39,"x":18,"y":2.36},{"l":39,"x":19,"y":2.32},{"l":39,"x":20,"y":2.45},{"l":39,"x":21,"y":2.40},{"l":39,"x":22,"y":2.55},{"l":39,"x":23,"y":2.48},{"l":39,"x":24,"y":2.62},{"l":39,"x":25,"y":2.50},{"l":39,"x":26,"y":2.66},{"l":39,"x":27,"y":2.58},{"l":39,"x":28,"y":2.72},{"l":39,"x":29,"y":2.70},
{"l":40,"x":3,"y":1.36},{"l":40,"x":4,"y":1.50},{"l":40,"x":5,"y":1.60},{"l":40,"x":6,"y":1.68},{"l":40,"x":7,"y":1.75},{"l":40,"x":8,"y":1.80},{"l":40,"x":9,"y":1.86},{"l":40,"x":10,"y":1.90},{"l":40,"x":11,"y":1.95},{"l":40,"x":12,"y":1.98},{"l":40,"x":13,"y":2.02},{"l":40,"x":14,"y":2.06},{"l":40,"x":15,"y":2.08},{"l":40,"x":16,"y":2.12},{"l":40,"x":17,"y":2.15},{"l":40,"x":18,"y":2.17},{"l":40,"x":19,"y":2.21},{"l":40,"x":20,"y":2.20},{"l":40,"x":21,"y":2.26},{"l":40,"x":22,"y":2.28},{"l":40,"x":23,"y":2.25},{"l":40,"x":24,"y":2.32},{"l":40,"x":25,"y":2.35},{"l":40,"x":26,"y":2.30},{"l":40,"x":27,"y":2.38},{"l":40,"x":28,"y":2.40},{"l":40,"x":29,"y":2.42}
],
"fit":[
{"s":"Real trees","x":3,"y":1.223},{"s":"Real trees","x":4,"y":1.407},{"s":"Real trees","x":5,"y":1.55},{"s":"Real trees","x":6,"y":1.667},{"s":"Real trees","x":7,"y":1.765},{"s":"Real trees","x":8,"y":1.851},{"s":"Real trees","x":9,"y":1.926},{"s":"Real trees","x":10,"y":1.994},{"s":"Real trees","x":11,"y":2.055},{"s":"Real trees","x":12,"y":2.11},{"s":"Real trees","x":13,"y":2.162},{"s":"Real trees","x":14,"y":2.209},{"s":"Real trees","x":15,"y":2.253},{"s":"Real trees","x":16,"y":2.294},{"s":"Real trees","x":17,"y":2.333},{"s":"Real trees","x":18,"y":2.37},{"s":"Real trees","x":19,"y":2.404},{"s":"Real trees","x":20,"y":2.437},{"s":"Real trees","x":21,"y":2.468},{"s":"Real trees","x":22,"y":2.498},{"s":"Real trees","x":23,"y":2.527},{"s":"Real trees","x":24,"y":2.554},{"s":"Real trees","x":25,"y":2.58},{"s":"Real trees","x":26,"y":2.605},{"s":"Real trees","x":27,"y":2.629},{"s":"Real trees","x":28,"y":2.653},{"s":"Real trees","x":29,"y":2.675},
{"s":"IC−matched RLAs","x":3,"y":1.22},{"s":"IC−matched RLAs","x":4,"y":1.43},{"s":"IC−matched RLAs","x":5,"y":1.58},{"s":"IC−matched RLAs","x":6,"y":1.70},{"s":"IC−matched RLAs","x":7,"y":1.80},{"s":"IC−matched RLAs","x":8,"y":1.89},{"s":"IC−matched RLAs","x":9,"y":1.96},{"s":"IC−matched RLAs","x":10,"y":2.03},{"s":"IC−matched RLAs","x":11,"y":2.09},
{"s":"IC−matched random structures","x":3,"y":1.335},{"s":"IC−matched random structures","x":4,"y":1.544},{"s":"IC−matched random structures","x":5,"y":1.706},{"s":"IC−matched random structures","x":6,"y":1.839},{"s":"IC−matched random structures","x":7,"y":1.95},{"s":"IC−matched random structures","x":8,"y":2.048},{"s":"IC−matched random structures","x":9,"y":2.133},{"s":"IC−matched random structures","x":10,"y":2.21},{"s":"IC−matched random structures","x":11,"y":2.28},
{"s":"Random structures","x":3,"y":1.245},{"s":"Random structures","x":4,"y":1.618},{"s":"Random structures","x":5,"y":1.907},{"s":"Random structures","x":6,"y":2.144},{"s":"Random structures","x":7,"y":2.344},{"s":"Random structures","x":8,"y":2.517},{"s":"Random structures","x":9,"y":2.67},{"s":"Random structures","x":10,"y":2.806},{"s":"Random structures","x":11,"y":2.93},
{"s":"RLAs","x":3,"y":1.22},{"s":"RLAs","x":4,"y":1.552},{"s":"RLAs","x":5,"y":1.81},{"s":"RLAs","x":6,"y":2.021},{"s":"RLAs","x":7,"y":2.198},{"s":"RLAs","x":8,"y":2.353},{"s":"RLAs","x":9,"y":2.489},{"s":"RLAs","x":10,"y":2.611},{"s":"RLAs","x":11,"y":2.721}
]
},
"encoding":{
 "x":{"field":"x","type":"quantitative","scale":{"domain":[1.64,30.3],"nice":false,"zero":false},
  "axis":{"title":"Sentence length","values":[5,10,15,20,25,30],"labelExpr":"datum.value % 10 == 0 ? format(datum.value,'d') : ''","gridWidth":{"condition":{"test":"datum.value % 10 != 0","value":0.9},"value":1.5},"tickOpacity":{"condition":{"test":"datum.value % 10 != 0","value":0},"value":1},"labelPadding":3,"titlePadding":5}},
 "y":{"field":"y","type":"quantitative","scale":{"domain":[0.8715,4.458],"nice":false,"zero":false},
  "axis":{"title":"Dependency length","values":[1,1.5,2,2.5,3,3.5,4],"labelExpr":"datum.value % 1 == 0 ? format(datum.value,'d') : ''","gridWidth":{"condition":{"test":"datum.value % 1 != 0","value":0.9},"value":1.5},"tickOpacity":{"condition":{"test":"datum.value % 1 != 0","value":0},"value":1},"labelPadding":4,"titlePadding":5}}
},
"layer":[
 {"data":{"name":"lang"},
  "mark":{"type":"line","color":"#000000","opacity":0.23,"strokeWidth":1.3},
  "encoding":{"detail":{"field":"l","type":"nominal"}}},
 {"data":{"name":"fit"},
  "mark":{"type":"line","strokeWidth":5,"interpolate":"monotone"},
  "encoding":{"stroke":{"field":"s","type":"nominal",
   "scale":{"domain":["Real trees","IC−matched RLAs","IC−matched random structures","RLAs","Random structures"],"range":["#7F7F7F","#E9967A","#4682B4","#9B30FF","#8B6508"]},
   "legend":{"title":null,"orient":"none","legendX":63,"legendY":-62.5,"direction":"horizontal","columns":5,
    "symbolType":"M-0.8,0H0.8H1V-1H-1V1H1V0","symbolSize":1024,"symbolStrokeWidth":5,"symbolDash":[25.6,1000],"symbolOffset":2.5,"symbolOpacity":1,
    "labelFont":"Liberation Sans","labelFontSize":16.2,"labelColor":"#000000","labelOffset":7,"columnPadding":0,"labelLimit":400,"padding":0,
    "encode":{"symbols":{"update":{"fill":{"value":"#D9D9D9"},"fillOpacity":{"value":1}}}}}}}}
 ]
}
